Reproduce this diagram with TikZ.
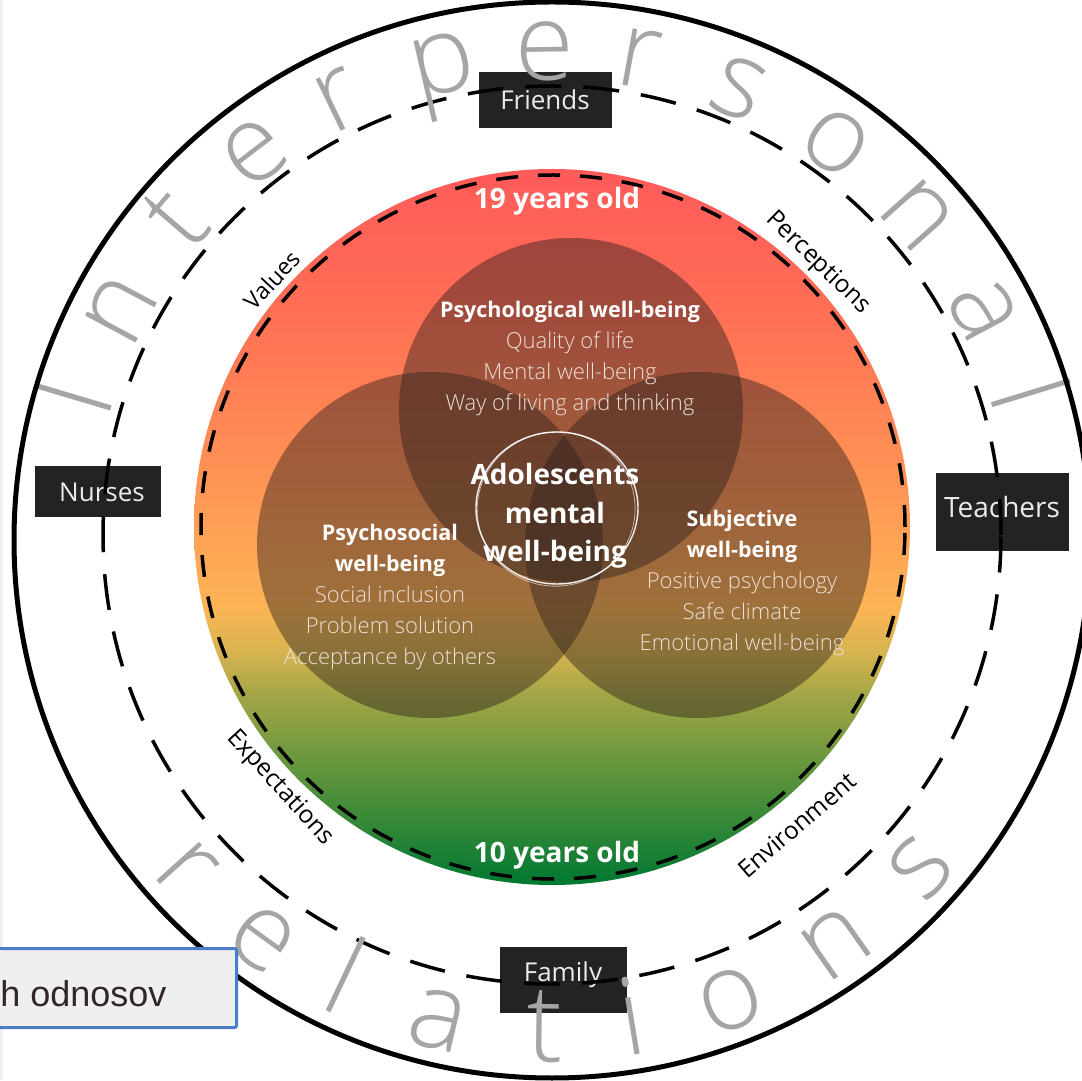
\documentclass[tikz,border=0pt]{standalone}
\usepackage{fontspec}
\setmainfont{Open Sans}
\newfontfamily\thinfont{Open Sans Light}
\newfontfamily\notefont{Liberation Sans}
\usetikzlibrary{calc}

\definecolor{boxgray}{RGB}{35,35,37}
\definecolor{venncol}{RGB}{45,32,28}
\definecolor{softtext}{RGB}{236,224,215}
\definecolor{lettergray}{RGB}{165,165,165}
\definecolor{noteblue}{RGB}{74,124,200}
\definecolor{notefill}{RGB}{239,239,239}
\definecolor{notetext}{RGB}{50,38,38}
\definecolor{ageA}{RGB}{0,120,50}
\definecolor{ageB}{RGB}{100,150,60}
\definecolor{ageC}{RGB}{160,165,70}
\definecolor{ageD}{RGB}{215,180,80}
\definecolor{ageE}{RGB}{253,180,85}
\definecolor{ageF}{RGB}{255,150,85}
\definecolor{ageG}{RGB}{255,110,85}
\definecolor{ageH}{RGB}{255,90,90}
\pgfdeclareverticalshading{agegrad}{100bp}{color(0bp)=(ageA); color(25bp)=(ageA); color(33.3bp)=(ageB); color(38.1bp)=(ageC); color(41.3bp)=(ageD); color(44.5bp)=(ageE); color(52.6bp)=(ageF); color(65.3bp)=(ageG); color(75bp)=(ageH); color(100bp)=(ageH)}

\begin{document}
\begin{tikzpicture}[x=1pt,y=1pt,
  venn/.style={fill=venncol, fill opacity=0.45},
  tag/.style={fill=boxgray, text=white!92!black, inner sep=0pt, font=\fontsize{26}{30}\selectfont},
  ringlabel/.style={font=\fontsize{24.5}{28}\selectfont, inner sep=0pt},
  bigletter/.style={text=lettergray, font=\thinfont\fontsize{108}{110}\selectfont, inner sep=0pt, anchor=base},
  agetext/.style={text=white, font=\bfseries\fontsize{28}{32}\selectfont},
  facet/.style={align=center, text=softtext, font=\thinfont\fontsize{22}{31}\selectfont}]
\useasboundingbox (0,0) rectangle (1082,1080);
\clip (0,0) rectangle (1082,1080);
\fill[gray!12] (0,0) rectangle (3,1080);

\coordinate (C) at (552,540);

\shade[shading=agegrad] (552,553) circle (358pt);
\draw[line width=3.5pt, dash pattern=on 22pt off 20pt] (553,553) circle (352pt);

\fill[venn] (571,670) circle (172pt);
\fill[venn] (430,535) circle (173pt);
\fill[venn] (698,535) circle (173pt);

\draw[white, line width=1.4pt, opacity=0.9] (557,572) ellipse (81pt and 76pt);
\draw[white, line width=0.8pt, opacity=0.6, rotate around={8:(557,572)}] (556,571) ellipse (79pt and 77pt);

\node[agetext] (older) at (557,879) {19 years old};
\node[agetext] (younger) at (557,225) {10 years old};

\node[text=white, align=center, font=\bfseries\fontsize{28}{38.5}\selectfont] (core) at (555,564) {Adolescents\\mental\\well-being};

\node[facet] (psych) at (570,722) {\textcolor{white}{\normalfont\bfseries\fontsize{21.5}{31}\selectfont Psychological well-being}\\Quality of life\\Mental well-being\\Way of living and thinking};
\node[facet] (social) at (390,483) {\textcolor{white}{\normalfont\bfseries\fontsize{21.5}{31}\selectfont Psychosocial}\\\textcolor{white}{\normalfont\bfseries\fontsize{21.5}{31}\selectfont well-being}\\Social inclusion\\Problem solution\\Acceptance by others};
\node[facet] (subj) at (742,497) {\textcolor{white}{\normalfont\bfseries\fontsize{21.5}{31}\selectfont Subjective}\\\textcolor{white}{\normalfont\bfseries\fontsize{21.5}{31}\selectfont well-being}\\Positive psychology\\Safe climate\\Emotional well-being};

\node[ringlabel, rotate=47, font=\fontsize{23}{26}\selectfont] (values) at (272,800) {Values};
\node[ringlabel, rotate=-44] (perceptions) at (818,817) {Perceptions};
\node[ringlabel, rotate=-47.6] (expectations) at (280,292) {Expectations};
\node[ringlabel, rotate=40.7] (environment) at (797,255) {Environment};

\node[tag, minimum width=133pt, minimum height=56pt] (friends) at (545,980) {Friends};
\node[tag, minimum width=126pt, minimum height=51pt] (nurses) at (98,588) {\hspace*{8pt}Nurses};
\node[tag, minimum width=133pt, minimum height=78pt, font=\fontsize{28}{32}\selectfont, text depth=10pt] (teachers) at (1002,568) {Teachers};
\node[tag, minimum width=127pt, minimum height=66pt, text depth=16pt] (family) at (563,100) {Family};

\draw[line width=3.5pt, dash pattern=on 36pt off 22pt] (552,545) circle (449pt);

\foreach \ang/\ch [count=\i] in {163.4/I,151.9/n,139.4/t,127.5/e,115.8/r,103.0/p,90.8/e,79.7/r,67.6/s,54.5/o,41.7/n,28.0/a,17.0/l}
  \node[bigletter, rotate=\ang-90] (upper\i) at ($(C)+(\ang:460pt)$) {\ch};
\foreach \ang/\ch [count=\i] in {222.0/r,234.0/e,244.6/l,256.6/a,269.2/t,279.4/i,291.2/o,305.1/n,318.4/s}
  \node[bigletter, rotate=\ang+90] (lower\i) at ($(C)+(\ang:522pt)$) {\ch};

\draw[line width=5pt] (C) circle (538pt);

\node[draw=noteblue, line width=3pt, fill=notefill, text=notetext, rounded corners=2pt, font=\notefont\fontsize{36}{40}\selectfont, anchor=east, minimum height=79pt, inner xsep=70pt, text height=36pt, text depth=0pt] (note) at (238,92) {h odnosov};
\end{tikzpicture}
\end{document}
